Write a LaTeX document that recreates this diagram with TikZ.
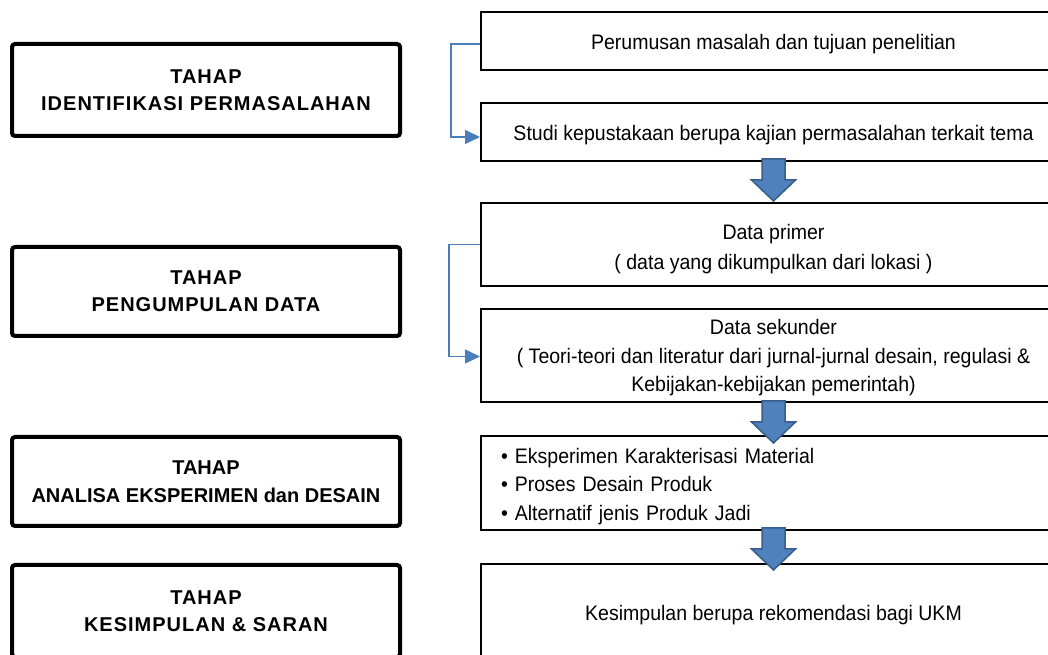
\documentclass[tikz,border=0pt]{standalone}
\usepackage{fontspec}
\setmainfont{Liberation Sans}
\newfontfamily\tahapfont[LetterSpace=5]{Liberation Sans}
\newfontfamily\isifont[FakeStretch=0.93]{Liberation Sans}
\usetikzlibrary{positioning,arrows.meta,calc}
\definecolor{arrowblue}{HTML}{4F81BD}
\definecolor{arrowedge}{HTML}{385D8A}
\definecolor{linkblue}{HTML}{4A7EBB}
\tikzset{%
  tahap/.style = {rectangle,draw,line width=4pt,rounded corners=3pt,
        minimum width=388pt,align=center,
        font=\tahapfont\bfseries\fontsize{20}{27}\selectfont},
  langkah/.style = {rectangle,draw,line width=2pt,minimum width=585pt,
        align=center,font=\isifont\fontsize{21}{28.5}\selectfont,
        execute at begin node={\rule{0pt}{22pt}}},
  linkarrow/.style = {-{Triangle[length=15pt,width=14pt]},linkblue,
        line width=1.5pt},
  blokarrow/.style = {fill=arrowblue,draw=arrowedge,line width=1.5pt}
}
\newcommand{\blokpanah}[1]{%
  \draw[blokarrow] ($(#1)+(-11.5,0)$) -- ++(0,-21) -- ++(-10.5,0)
    -- ++(22,-21) -- ++(22,21) -- ++(-10.5,0) -- ++(0,21) -- cycle;}

\begin{document}
\begin{tikzpicture}[x=1pt,y=1pt]
   \useasboundingbox (0,0) rectangle (1048,655);
   \clip (0,0) rectangle (1048,655);

   \node[tahap,minimum height=92pt] (l1) at (206,565) {TAHAP\\IDENTIFIKASI PERMASALAHAN};
   \node[tahap,minimum height=89pt] (l2) [below=107pt of l1] {TAHAP\\PENGUMPULAN DATA};
   \node[tahap,minimum height=89pt,font=\bfseries\fontsize{20}{28}\selectfont] (l3)
        [below=97pt of l2] {TAHAP\\ANALISA EKSPERIMEN dan DESAIN};
   \node[tahap,minimum height=92pt] (l4) [below=35pt of l3] {TAHAP\\KESIMPULAN \& SARAN};

   \node[langkah,minimum height=58pt] (r1) at (773.5,614) {Perumusan masalah dan tujuan penelitian};
   \node[langkah,minimum height=58pt] (r2) [below=31pt of r1]
        {Studi kepustakaan berupa kajian permasalahan terkait tema};
   \node[langkah,minimum height=83pt,text height=55pt,
        font=\isifont\fontsize{21}{30}\selectfont] (r3) [below=40pt of r2]
        {Data primer\\( data yang dikumpulkan dari lokasi )};
   \node[langkah,minimum height=93pt,text height=77pt] (r4) [below=21pt of r3]
        {Data sekunder\\( Teori-teori dan literatur dari jurnal-jurnal desain, regulasi \&\\Kebijakan-kebijakan pemerintah)};
   \node[langkah,minimum height=94pt,text width=545pt,align=left,inner xsep=20pt] (r5)
        [below=32pt of r4] {• Eksperimen Karakterisasi Material\\• Proses Desain Produk\\• Alternatif jenis Produk Jadi};
   \node[langkah,minimum height=95pt] (r6) [below=32pt of r5] {Kesimpulan berupa rekomendasi bagi UKM};

   \draw[linkarrow] ([yshift=-3pt]r1.west) -- ++(-29pt,0) |- ([yshift=-5pt]r2.west);
   \draw[linkarrow] (r3.west) -- ++(-31pt,0) |- ([yshift=-1pt]r4.west);

   \coordinate (p1) at ([yshift=3pt]r2.south);
   \coordinate (p2) at ([yshift=2pt]r4.south);
   \coordinate (p3) at ([yshift=3pt]r5.south);
   \blokpanah{p1}
   \blokpanah{p2}
   \blokpanah{p3}
\end{tikzpicture}
\end{document}
